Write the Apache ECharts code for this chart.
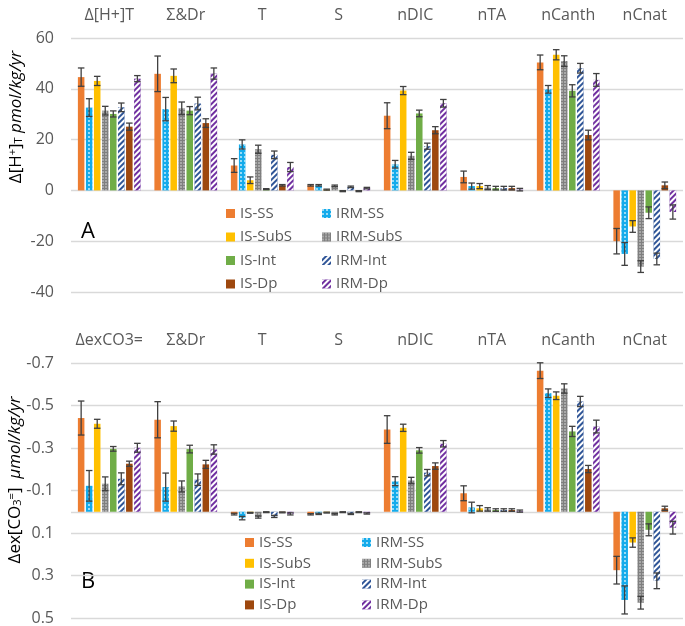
<!DOCTYPE html>
<html>
<head>
<meta charset="utf-8">
<script src="https://cdn.jsdelivr.net/npm/echarts@6/dist/echarts.min.js"></script>
<style>
html,body{margin:0;padding:0;background:#fff;}
#c{width:685px;height:626px;}
</style>
</head>
<body>
<div id="c"></div>
<script>
// ---------- categories ----------
const catsTop = ['Δ[H+]T', 'Σ&Dr', 'T', 'S', 'nDIC', 'nTA', 'nCanth', 'nCnat'];
const catsBot = ['ΔexCO3=', 'Σ&Dr', 'T', 'S', 'nDIC', 'nTA', 'nCanth', 'nCnat'];
const seriesNames = ['IS-SS', 'IRM-SS', 'IS-SubS', 'IRM-SubS', 'IS-Int', 'IRM-Int', 'IS-Dp', 'IRM-Dp'];

// ---------- panel A values (pmol/kg/yr) ----------
const topIS_SS     = [44.6, 45.9, 9.8, 2.0, 29.4, 5.3, 50.4, -20.0];
const topIRM_SS    = [32.6, 32.0, 18.1, 2.0, 10.3, 1.7, 39.8, -25.0];
const topIS_SubS   = [43.1, 45.1, 4.0, 0.3, 39.3, 1.7, 53.4, -14.2];
const topIRM_SubS  = [31.4, 32.3, 16.2, 1.8, 13.6, 1.1, 50.9, -30.0];
const topIS_Int    = [30.1, 31.4, 0.5, -0.3, 30.3, 0.9, 39.2, -8.8];
const topIRM_Int   = [32.7, 34.2, 14.0, 1.4, 17.4, 0.9, 48.1, -27.0];
const topIS_Dp     = [25.1, 26.5, 2.0, -0.3, 23.7, 0.9, 21.8, 2.0];
const topIRM_Dp    = [44.0, 46.0, 9.2, 0.9, 34.3, 0.3, 43.5, -8.5];
// error half-widths
const topErrIS_SS    = [3.6, 7.0, 2.7, 0.3, 5.1, 2.3, 2.9, 5.0];
const topErrIRM_SS   = [3.5, 4.6, 1.8, 0.3, 1.5, 1.2, 1.5, 4.5];
const topErrIS_SubS  = [1.8, 2.7, 1.3, 0.2, 1.6, 1.0, 2.0, 2.3];
const topErrIRM_SubS = [1.7, 2.5, 1.6, 0.3, 1.4, 0.8, 2.1, 2.3];
const topErrIS_Int   = [1.2, 1.6, 0.2, 0.2, 1.3, 0.7, 2.4, 2.3];
const topErrIRM_Int  = [1.7, 2.5, 1.5, 0.3, 1.2, 0.7, 1.9, 2.3];
const topErrIS_Dp    = [1.4, 1.7, 0.3, 0.2, 1.4, 0.7, 1.9, 1.3];
const topErrIRM_Dp   = [1.2, 2.2, 1.8, 0.3, 1.5, 0.5, 2.5, 2.8];

// ---------- panel B values (µmol/kg/yr) ----------
const botIS_SS     = [-0.441, -0.433, 0.011, 0.012, -0.387, -0.087, -0.664, 0.275];
const botIRM_SS    = [-0.122, -0.116, 0.030, 0.010, -0.144, -0.020, -0.558, 0.415];
const botIS_SubS   = [-0.414, -0.403, 0.005, 0.004, -0.395, -0.016, -0.546, 0.145];
const botIRM_SubS  = [-0.132, -0.119, 0.025, 0.012, -0.147, -0.011, -0.580, 0.428];
const botIS_Int    = [-0.296, -0.295, 0.002, 0.002, -0.289, -0.008, -0.378, 0.085];
const botIRM_Int   = [-0.155, -0.151, 0.022, 0.010, -0.184, -0.008, -0.519, 0.325];
const botIS_Dp     = [-0.226, -0.223, 0.003, 0.002, -0.215, -0.008, -0.201, -0.016];
const botIRM_Dp    = [-0.301, -0.293, 0.010, 0.008, -0.320, -0.003, -0.401, 0.075];
const botErrIS_SS    = [0.080, 0.085, 0.004, 0.003, 0.065, 0.035, 0.037, 0.065];
const botErrIRM_SS   = [0.072, 0.066, 0.008, 0.003, 0.021, 0.025, 0.020, 0.066];
const botErrIS_SubS  = [0.021, 0.024, 0.002, 0.002, 0.017, 0.013, 0.018, 0.022];
const botErrIRM_SubS = [0.032, 0.026, 0.005, 0.003, 0.015, 0.008, 0.022, 0.030];
const botErrIS_Int   = [0.011, 0.018, 0.002, 0.002, 0.013, 0.006, 0.024, 0.028];
const botErrIRM_Int  = [0.028, 0.027, 0.005, 0.003, 0.015, 0.006, 0.024, 0.037];
const botErrIS_Dp    = [0.012, 0.019, 0.002, 0.002, 0.015, 0.006, 0.017, 0.010];
const botErrIRM_Dp   = [0.021, 0.022, 0.005, 0.003, 0.015, 0.005, 0.030, 0.030];

// ---------- axis ticks ----------
const topTicks = [-40, -20, 0, 20, 40, 60];               // min, ..., max (step 20)
const botTicks = [-0.7, -0.5, -0.3, -0.1, 0.1, 0.3, 0.5]; // min, ..., max (step 0.2)

const topVals = [topIS_SS, topIRM_SS, topIS_SubS, topIRM_SubS, topIS_Int, topIRM_Int, topIS_Dp, topIRM_Dp];
const topErrs = [topErrIS_SS, topErrIRM_SS, topErrIS_SubS, topErrIRM_SubS, topErrIS_Int, topErrIRM_Int, topErrIS_Dp, topErrIRM_Dp];
const botVals = [botIS_SS, botIRM_SS, botIS_SubS, botIRM_SubS, botIS_Int, botIRM_Int, botIS_Dp, botIRM_Dp];
const botErrs = [botErrIS_SS, botErrIRM_SS, botErrIS_SubS, botErrIRM_SubS, botErrIS_Int, botErrIRM_Int, botErrIS_Dp, botErrIRM_Dp];

// ---------- styles ----------
const FONT = 'Open Sans';
const GREY = '#595959';
const GRID_LINE = '#D9D9D9';
const colors = ['#ED7D31', '#14ABEB', '#FFC000', '#7F7F7F', '#70AD47', '#2F5597', '#9E480E', '#7030A0'];
const dots = {symbol: 'circle', symbolSize: 0.9, dashArrayX: [2, 1.5], dashArrayY: [2, 1.5], color: 'rgba(255,255,255,0.85)'};
const dots2 = {symbol: 'circle', symbolSize: 0.8, dashArrayX: [2, 1], dashArrayY: [2, 1], color: 'rgba(255,255,255,0.75)'};
const stripes = {symbol: 'rect', symbolSize: 1, dashArrayX: [1, 0], dashArrayY: [1.6, 1.6], rotation: -Math.PI / 4, color: '#ffffff'};
const decals = [null, dots, null, dots2, null, stripes, null, stripes];

const BAR_CAT_GAP = 0.18, BAR_GAP = 0.23, N = 8;

function makeBars(vals, xi, yi, zeroLine) {
  return seriesNames.map((name, i) => {
    const s = {
      type: 'bar', name: name, xAxisIndex: xi, yAxisIndex: yi,
      data: vals[i],
      barCategoryGap: (BAR_CAT_GAP * 100) + '%', barGap: (BAR_GAP * 100) + '%',
      itemStyle: Object.assign({color: colors[i]}, decals[i] ? {decal: decals[i]} : {}),
      emphasis: {disabled: true},
      z: 2
    };
    if (zeroLine && i === 0) {
      s.markLine = {silent: true, symbol: 'none', label: {show: false}, z: 0,
                    lineStyle: {color: GRID_LINE, width: 1.3, type: 'solid'},
                    data: [{yAxis: 0}]};
    }
    return s;
  });
}

function makeErr(vals, errs, xi, yi) {
  const data = [];
  for (let s = 0; s < N; s++) {
    for (let c = 0; c < vals[s].length; c++) {
      data.push([c, s, vals[s][c] - errs[s][c], vals[s][c] + errs[s][c]]);
    }
  }
  return {
    type: 'custom', name: 'err', xAxisIndex: xi, yAxisIndex: yi, z: 5,
    encode: {x: 0, y: [2, 3]},
    data: data,
    renderItem: function (params, api) {
      const cat = api.value(0), idx = api.value(1), lo = api.value(2), hi = api.value(3);
      const band = api.size([1, 0])[0];
      const remained = band * (1 - BAR_CAT_GAP);
      const w = remained / (N + (N - 1) * BAR_GAP);
      const p1 = api.coord([cat, lo]);
      const p2 = api.coord([cat, hi]);
      const x = p1[0] - remained / 2 + w / 2 + idx * w * (1 + BAR_GAP);
      const cap = w * 0.5;
      const st = {stroke: '#404040', lineWidth: 1.3};
      return {type: 'group', children: [
        {type: 'line', shape: {x1: x, y1: p1[1], x2: x, y2: p2[1]}, style: st},
        {type: 'line', shape: {x1: x - cap, y1: p1[1], x2: x + cap, y2: p1[1]}, style: st},
        {type: 'line', shape: {x1: x - cap, y1: p2[1], x2: x + cap, y2: p2[1]}, style: st}
      ]};
    }
  };
}

const xAxisBase = {
  type: 'category', position: 'top',
  axisLine: {show: false, onZero: false}, axisTick: {show: false},
  axisLabel: {fontSize: 16, color: GREY, fontFamily: FONT, margin: 15, interval: 0}
};
const splitLine = {show: true, lineStyle: {color: GRID_LINE, width: 1.3}};

const legendText = {fontSize: 15, color: GREY, fontFamily: FONT};
function legend(data, left, top, gap) {
  return {orient: 'vertical', left: left, top: top, itemWidth: 9, itemHeight: 9, itemGap: gap,
          icon: 'rect', data: data, textStyle: legendText, selectedMode: false, padding: 0};
}
const legCol1 = ['IS-SS', 'IS-SubS', 'IS-Int', 'IS-Dp'];
const legCol2 = ['IRM-SS', 'IRM-SubS', 'IRM-Int', 'IRM-Dp'];

const richTitle = {
  n: {fontSize: 17, color: GREY, fontFamily: FONT},
  i: {fontSize: 17, color: GREY, fontFamily: FONT, fontStyle: 'italic'},
  sup: {fontSize: 11, color: GREY, fontFamily: FONT, verticalAlign: 'top'},
  sub: {fontSize: 11, color: GREY, fontFamily: FONT, verticalAlign: 'bottom'}
};

function botFmt(v) {
  const r = Math.round(v * 10) / 10;
  return (r < 0 ? '-' : '') + Math.abs(r).toFixed(1);
}

const option = {
  animation: false,
  grid: [
    {left: 71, right: 2, top: 38, height: 254},
    {left: 71, right: 2, top: 363, height: 255}
  ],
  xAxis: [
    Object.assign({}, xAxisBase, {gridIndex: 0, data: catsTop}),
    Object.assign({}, xAxisBase, {gridIndex: 1, data: catsBot})
  ],
  yAxis: [
    {type: 'value', gridIndex: 0, min: topTicks[0], max: topTicks[topTicks.length - 1],
     interval: topTicks[1] - topTicks[0],
     axisLine: {show: false}, axisTick: {show: false}, splitLine: splitLine,
     axisLabel: {fontSize: 16, color: GREY, fontFamily: FONT, margin: 17}},
    {type: 'value', gridIndex: 1, inverse: true, min: botTicks[0], max: botTicks[botTicks.length - 1],
     interval: 0.2,
     axisLine: {show: false}, axisTick: {show: false}, splitLine: splitLine,
     axisLabel: {fontSize: 16, color: GREY, fontFamily: FONT, margin: 17, formatter: botFmt}}
  ],
  legend: [
    legend(legCol1, 226, 206, 8.5),
    legend(legCol2, 322, 206, 8.5),
    legend(legCol1, 245, 535, 5.8),
    legend(legCol2, 362, 535, 5.8)
  ],
  graphic: [
    {type: 'text', x: 16, y: 117, rotation: Math.PI / 2,
     style: {text: '{n|Δ[H}{sup|+}{n|]}{sub|T}{i| pmol/kg/yr}', rich: richTitle,
             align: 'center', verticalAlign: 'middle', textAlign: 'center', textVerticalAlign: 'middle'}},
    {type: 'text', x: 15, y: 480, rotation: Math.PI / 2,
     style: {text: '{n|Δex[CO}{sub|3}{sup|=}{n|]}{i|  μmol/kg/yr}', rich: richTitle,
             align: 'center', verticalAlign: 'middle', textAlign: 'center', textVerticalAlign: 'middle'}},
    {type: 'text', x: 81, y: 232,
     style: {text: 'A', fontSize: 22, fill: '#000', fontFamily: FONT, verticalAlign: 'middle', textVerticalAlign: 'middle'}},
    {type: 'text', x: 81, y: 582,
     style: {text: 'B', fontSize: 22, fill: '#000', fontFamily: FONT, verticalAlign: 'middle', textVerticalAlign: 'middle'}}
  ],
  series: [].concat(
    makeBars(topVals, 0, 0, false),
    makeBars(botVals, 1, 1, true),
    [makeErr(topVals, topErrs, 0, 0), makeErr(botVals, botErrs, 1, 1)]
  )
};

const chart = echarts.init(document.getElementById('c'), null, {renderer: 'canvas'});
chart.setOption(option);
</script>
</body>
</html>
